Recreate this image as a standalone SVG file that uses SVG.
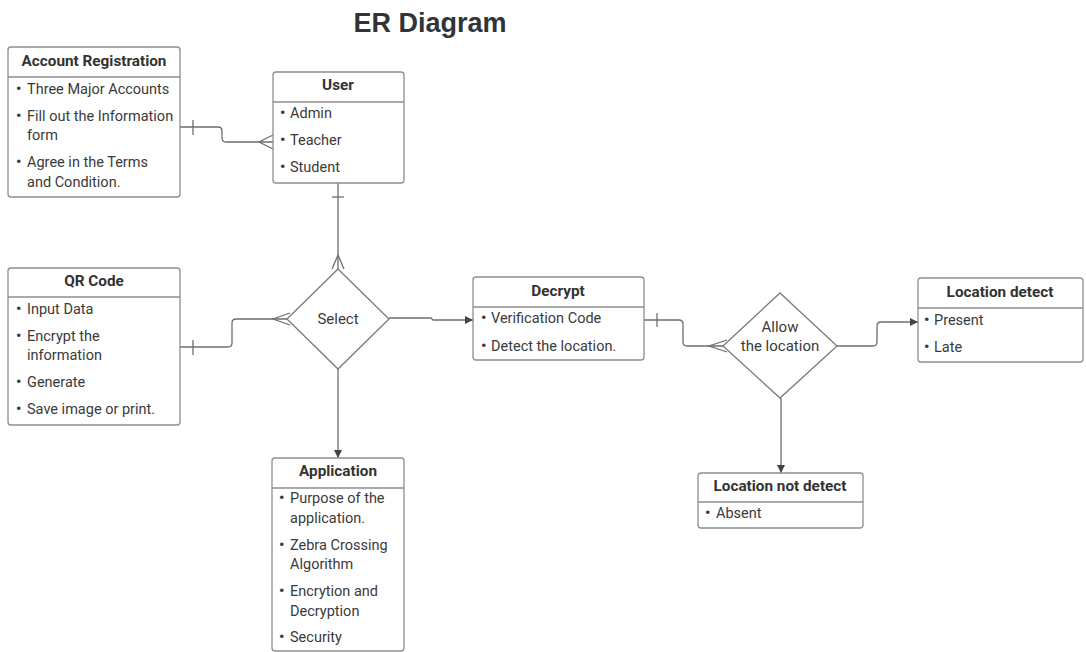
<svg xmlns="http://www.w3.org/2000/svg" width="1086" height="652" viewBox="0 0 1086 652">
  <style>
    .box { fill: #ffffff; stroke: #8e8e8e; stroke-width: 1.3; }
    .div { stroke: #8e8e8e; stroke-width: 1.3; }
    .dia { fill: #ffffff; stroke: #7a7a7a; stroke-width: 1.3; }
    .ttl { font-family: Roboto, "Liberation Sans", sans-serif; font-weight: bold; font-size: 15.3px; fill: #333333; text-anchor: middle; }
    .itm { font-family: Roboto, "Liberation Sans", sans-serif; font-size: 14.5px; fill: #3a3a3a; }
    .itm .b { font-weight: bold; font-size: 15px; }
    .lbl { font-family: Roboto, "Liberation Sans", sans-serif; font-size: 15px; fill: #3a3a3a; text-anchor: middle; }
    .head { font-family: "Liberation Sans", Arial, sans-serif; font-weight: bold; font-size: 27px; fill: #303438; text-anchor: middle; }
    .ln { fill: none; stroke: #6e6e6e; stroke-width: 1.3; }
  </style>
  <defs>
    <marker id="arrow" viewBox="0 0 10 10" refX="10" refY="5" markerWidth="8" markerHeight="8" markerUnits="userSpaceOnUse" orient="auto">
      <path d="M0,0 L10,5 L0,10 Z" fill="#444444"/>
    </marker>
  </defs>

  <rect width="1086" height="652" fill="#ffffff"/>

  <text class="head" x="430" y="32">ER Diagram</text>

  <!-- connectors -->
  <g id="connectors">
    <!-- Account Registration to User -->
    <path class="ln" d="M180,127 H218 Q222,127 222,131 V138 Q222,142 226,142 H273"/>
    <path class="ln" d="M193,120 V135"/>
    <path class="ln" d="M273,135 L259,142 L273,149"/>
    <!-- User to Select -->
    <path class="ln" d="M338,183 V269"/>
    <path class="ln" d="M332,197 H344"/>
    <path class="ln" d="M332,269 L338,255 L344,269"/>
    <!-- QR Code to Select -->
    <path class="ln" d="M180,347 H228 Q232,347 232,343 V323 Q232,319 236,319 H287"/>
    <path class="ln" d="M193,340 V355"/>
    <path class="ln" d="M290,313 L273,319 L290,325"/>
    <!-- Select to Decrypt -->
    <path class="ln" d="M389,318 H431 L433,320 H473" marker-end="url(#arrow)"/>
    <!-- Select to Application -->
    <path class="ln" d="M338,369 V458" marker-end="url(#arrow)"/>
    <!-- Decrypt to Allow the location -->
    <path class="ln" d="M644,320 H679 Q683,320 683,324 V342 Q683,346 687,346 H723"/>
    <path class="ln" d="M657,313 V327"/>
    <path class="ln" d="M727,340 L709,346 L727,352"/>
    <!-- Allow the location to Location detect -->
    <path class="ln" d="M837,346 H873 Q877,346 877,342 V326 Q877,322 881,322 H918" marker-end="url(#arrow)"/>
    <!-- Allow the location to Location not detect -->
    <path class="ln" d="M781,398 V473" marker-end="url(#arrow)"/>
  </g>

  <!-- Account Registration -->
  <g id="account-registration">
    <rect class="box" x="8" y="47" width="172" height="150" rx="3"/>
    <line class="div" x1="8" y1="77" x2="180" y2="77"/>
    <text class="ttl" x="94" y="66">Account Registration</text>
    <text class="itm"><tspan class="b" x="16" y="94">•</tspan><tspan x="27" y="94">Three Major Accounts</tspan></text>
    <text class="itm"><tspan class="b" x="16" y="121">•</tspan><tspan x="27" y="121">Fill out the Information</tspan><tspan x="27" y="140">form</tspan></text>
    <text class="itm"><tspan class="b" x="16" y="167">•</tspan><tspan x="27" y="167">Agree in the Terms</tspan><tspan x="27" y="187">and Condition.</tspan></text>
  </g>

  <!-- User -->
  <g id="user">
    <rect class="box" x="273" y="72" width="131" height="111" rx="3"/>
    <line class="div" x1="273" y1="102" x2="404" y2="102"/>
    <text class="ttl" x="338" y="90">User</text>
    <text class="itm"><tspan class="b" x="280" y="118">•</tspan><tspan x="290" y="118">Admin</tspan></text>
    <text class="itm"><tspan class="b" x="280" y="145">•</tspan><tspan x="290" y="145">Teacher</tspan></text>
    <text class="itm"><tspan class="b" x="280" y="172">•</tspan><tspan x="290" y="172">Student</tspan></text>
  </g>

  <!-- QR Code -->
  <g id="qr-code">
    <rect class="box" x="8" y="268" width="172" height="157" rx="3"/>
    <line class="div" x1="8" y1="297" x2="180" y2="297"/>
    <text class="ttl" x="94" y="286">QR Code</text>
    <text class="itm"><tspan class="b" x="16" y="314">•</tspan><tspan x="27" y="314">Input Data</tspan></text>
    <text class="itm"><tspan class="b" x="16" y="341">•</tspan><tspan x="27" y="341">Encrypt the</tspan><tspan x="27" y="360">information</tspan></text>
    <text class="itm"><tspan class="b" x="16" y="387">•</tspan><tspan x="27" y="387">Generate</tspan></text>
    <text class="itm"><tspan class="b" x="16" y="414">•</tspan><tspan x="27" y="414">Save image or print.</tspan></text>
  </g>

  <!-- Select -->
  <g id="select">
    <polygon class="dia" points="338,269 389,319 338,369 287,319"/>
    <text class="lbl" x="338" y="324">Select</text>
  </g>

  <!-- Decrypt -->
  <g id="decrypt">
    <rect class="box" x="473" y="277" width="171" height="83" rx="3"/>
    <line class="div" x1="473" y1="307" x2="644" y2="307"/>
    <text class="ttl" x="558" y="296">Decrypt</text>
    <text class="itm"><tspan class="b" x="481" y="323">•</tspan><tspan x="491" y="323">Verification Code</tspan></text>
    <text class="itm"><tspan class="b" x="481" y="351">•</tspan><tspan x="491" y="351">Detect the location.</tspan></text>
  </g>

  <!-- Allow the location -->
  <g id="allow-location">
    <polygon class="dia" points="780,293 837,346 780,398 723,346"/>
    <text class="lbl" x="780" y="332">Allow</text>
    <text class="lbl" x="780" y="351">the location</text>
  </g>

  <!-- Location detect -->
  <g id="location-detect">
    <rect class="box" x="918" y="278" width="165" height="84" rx="3"/>
    <line class="div" x1="918" y1="308" x2="1083" y2="308"/>
    <text class="ttl" x="1000" y="297">Location detect</text>
    <text class="itm"><tspan class="b" x="924" y="325">•</tspan><tspan x="934" y="325">Present</tspan></text>
    <text class="itm"><tspan class="b" x="924" y="352">•</tspan><tspan x="934" y="352">Late</tspan></text>
  </g>

  <!-- Location not detect -->
  <g id="location-not-detect">
    <rect class="box" x="698" y="473" width="165" height="55" rx="3"/>
    <line class="div" x1="698" y1="502" x2="863" y2="502"/>
    <text class="ttl" x="780" y="491">Location not detect</text>
    <text class="itm"><tspan class="b" x="705" y="518">•</tspan><tspan x="716" y="518">Absent</tspan></text>
  </g>

  <!-- Application -->
  <g id="application">
    <rect class="box" x="272" y="458" width="132" height="193" rx="3"/>
    <line class="div" x1="272" y1="488" x2="404" y2="488"/>
    <text class="ttl" x="338" y="476">Application</text>
    <text class="itm"><tspan class="b" x="279" y="503">•</tspan><tspan x="290" y="503">Purpose of the</tspan><tspan x="290" y="523">application.</tspan></text>
    <text class="itm"><tspan class="b" x="279" y="550">•</tspan><tspan x="290" y="550">Zebra Crossing</tspan><tspan x="290" y="569">Algorithm</tspan></text>
    <text class="itm"><tspan class="b" x="279" y="596">•</tspan><tspan x="290" y="596">Encrytion and</tspan><tspan x="290" y="616">Decryption</tspan></text>
    <text class="itm"><tspan class="b" x="279" y="642">•</tspan><tspan x="290" y="642">Security</tspan></text>
  </g>
</svg>
